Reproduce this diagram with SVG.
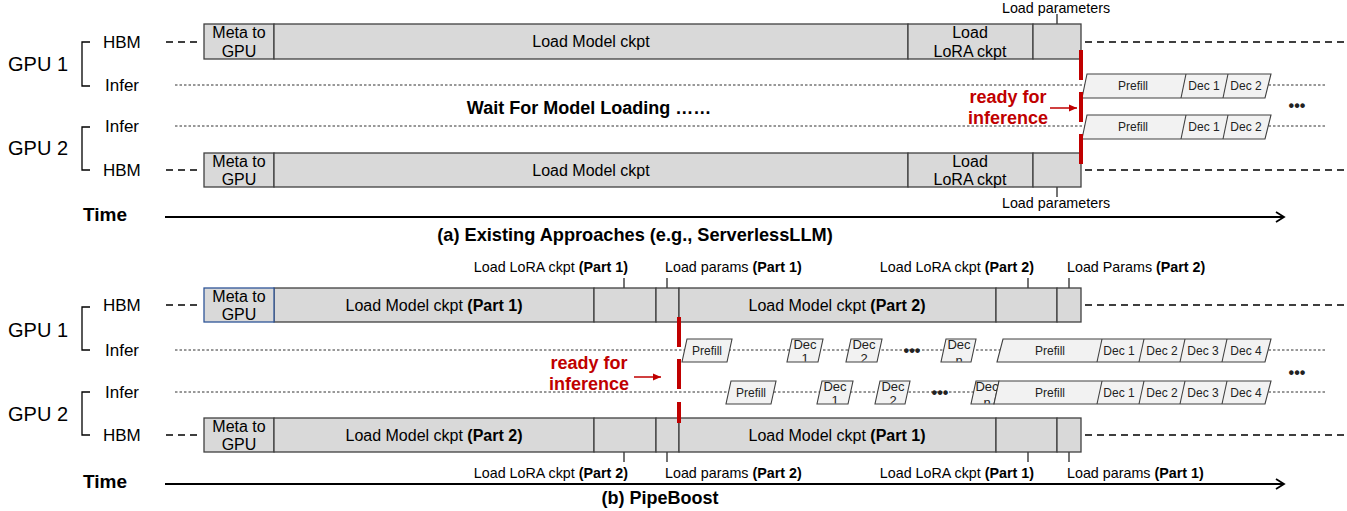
<svg xmlns="http://www.w3.org/2000/svg" width="1347" height="511" viewBox="0 0 1347 511">
<style>
text{font-family:"Liberation Sans",Arial,sans-serif;fill:#000}
.box{fill:#d9d9d9;stroke:#404040;stroke-width:1.3}
.meta-blue{fill:#d9d9d9;stroke:#2f5597;stroke-width:1.3}
.blk{fill:#f2f2f2;stroke:#404040;stroke-width:1.1}
.div{stroke:#404040;stroke-width:1.1;fill:none}
.dash{stroke:#000;stroke-width:1.6;stroke-dasharray:7 5;fill:none}
.dot{stroke:#333;stroke-width:1;stroke-dasharray:2.5 2;fill:none}
.tick{stroke:#000;stroke-width:1.1;fill:none}
.brk{stroke:#000;stroke-width:1.3;fill:none}
.red{stroke:#c00000;stroke-width:4;fill:none}
.axis{stroke:#000;stroke-width:1.8;fill:none}
.t16{font-size:16px;text-anchor:middle}
.t14{font-size:14.3px}
.t12{font-size:12px;text-anchor:middle;fill:#222}
.t13{font-size:13px;text-anchor:middle;fill:#222}
.gpu{font-size:20px}
.lane{font-size:17px}
.bold{font-weight:bold}
.redt{font-size:18px;font-weight:bold;fill:#c00000;text-anchor:middle}
.ell{font-size:16px;font-weight:bold;text-anchor:middle;fill:#222}
</style>
<defs>
<marker id="openArrow" markerWidth="12" markerHeight="12" refX="9" refY="6" orient="auto" markerUnits="userSpaceOnUse">
<path d="M1,1 L9,6 L1,11" fill="none" stroke="#000" stroke-width="1.8"/>
</marker>
<marker id="redArrow" markerWidth="10" markerHeight="10" refX="8" refY="5" orient="auto" markerUnits="userSpaceOnUse">
<path d="M0,1.5 L8,5 L0,8.5 Z" fill="#c00000"/>
</marker>
<clipPath id="clipR1"><rect x="700" y="330" width="320" height="31.5"/></clipPath>
<clipPath id="clipR2"><rect x="700" y="372" width="320" height="31.5"/></clipPath>
</defs>

<!-- ============ Labels (a) ============ -->
<g id="labels-a">
<text class="gpu" x="8" y="71">GPU 1</text>
<path class="brk" d="M90,42 H82 V86 H90"/>
<text class="lane" x="103" y="48">HBM</text>
<text class="lane" x="105" y="91">Infer</text>
<text class="gpu" x="8" y="155">GPU 2</text>
<path class="brk" d="M90,127 H82 V170 H90"/>
<text class="lane" x="105" y="132">Infer</text>
<text class="lane" x="103" y="176">HBM</text>
<text class="bold" x="83" y="221" font-size="19">Time</text>
<text class="bold" x="635" y="241" font-size="18.2" text-anchor="middle">(a) Existing Approaches (e.g., ServerlessLLM)</text>
<text class="bold" x="589" y="114" font-size="18" text-anchor="middle">Wait For Model Loading ……</text>
</g>

<!-- ============ Connectors / lines ============ -->
<g id="connectors">
<!-- panel a -->
<line class="dash" x1="166" y1="42" x2="200" y2="42"/>
<line class="dash" x1="1085" y1="42" x2="1347" y2="42"/>
<line class="dot" x1="175" y1="85" x2="1325" y2="85"/>
<line class="dot" x1="175" y1="126" x2="1325" y2="126"/>
<line class="dash" x1="166" y1="170" x2="200" y2="170"/>
<line class="dash" x1="1085" y1="170" x2="1347" y2="170"/>
<line class="axis" x1="165" y1="217" x2="1284" y2="217" marker-end="url(#openArrow)"/>
<line class="tick" x1="1057" y1="14" x2="1057" y2="24"/>
<line class="tick" x1="1057" y1="187" x2="1057" y2="197"/>
<line stroke="#c00000" stroke-width="1.5" x1="1050" y1="108" x2="1077" y2="108" marker-end="url(#redArrow)"/>
<!-- panel b -->
<line class="dash" x1="166" y1="305" x2="200" y2="305"/>
<line class="dash" x1="1085" y1="305" x2="1347" y2="305"/>
<line class="dot" x1="175" y1="350" x2="1325" y2="350"/>
<line class="dot" x1="175" y1="392" x2="1325" y2="392"/>
<line class="dash" x1="166" y1="435" x2="200" y2="435"/>
<line class="dash" x1="1085" y1="435" x2="1347" y2="435"/>
<line class="axis" x1="165" y1="484" x2="1284" y2="484" marker-end="url(#openArrow)"/>
<line class="tick" x1="624" y1="278" x2="624" y2="288"/>
<line class="tick" x1="667" y1="278" x2="667" y2="288"/>
<line class="tick" x1="1028" y1="278" x2="1028" y2="288"/>
<line class="tick" x1="1069" y1="278" x2="1069" y2="288"/>
<line class="tick" x1="624" y1="452" x2="624" y2="462"/>
<line class="tick" x1="667" y1="452" x2="667" y2="462"/>
<line class="tick" x1="1028" y1="452" x2="1028" y2="462"/>
<line class="tick" x1="1069" y1="452" x2="1069" y2="462"/>
<line stroke="#c00000" stroke-width="1.5" x1="634" y1="377" x2="661" y2="377" marker-end="url(#redArrow)"/>
</g>

<!-- ============ Panel (a) GPU1 HBM ============ -->
<g id="a-gpu1-hbm">
<rect class="box" x="204" y="24" width="70" height="35"/>
<text class="t16" x="239" y="38">Meta to</text>
<text class="t16" x="239" y="57">GPU</text>
<rect class="box" x="274" y="24" width="634" height="35"/>
<text class="t16" x="591" y="47">Load Model ckpt</text>
<rect class="box" x="908" y="24" width="125" height="35"/>
<text class="t16" x="970" y="38">Load</text>
<text class="t16" x="970" y="57">LoRA ckpt</text>
<rect class="box" x="1033" y="24" width="48" height="35"/>
<text class="t14" x="1056" y="13" text-anchor="middle">Load parameters</text>
</g>

<!-- ============ Panel (a) GPU2 HBM ============ -->
<g id="a-gpu2-hbm">
<rect class="box" x="204" y="153" width="70" height="34"/>
<text class="t16" x="239" y="167">Meta to</text>
<text class="t16" x="239" y="185">GPU</text>
<rect class="box" x="274" y="153" width="634" height="34"/>
<text class="t16" x="591" y="176">Load Model ckpt</text>
<rect class="box" x="908" y="153" width="125" height="34"/>
<text class="t16" x="970" y="167">Load</text>
<text class="t16" x="970" y="185">LoRA ckpt</text>
<rect class="box" x="1033" y="153" width="48" height="34"/>
<text class="t14" x="1056" y="208" text-anchor="middle">Load parameters</text>
</g>

<!-- ============ Panel (a) inference ============ -->
<g id="a-gpu1-infer">
<polygon class="blk" points="1087,74 1271,74 1265,98 1082,98"/>
<line class="div" x1="1186" y1="74" x2="1181" y2="98"/>
<line class="div" x1="1228" y1="74" x2="1223" y2="98"/>
<text class="t12" x="1133" y="90">Prefill</text>
<text class="t12" x="1204" y="90">Dec 1</text>
<text class="t12" x="1246" y="90">Dec 2</text>
</g>
<g id="a-gpu2-infer">
<polygon class="blk" points="1087,115 1271,115 1265,139 1082,139"/>
<line class="div" x1="1186" y1="115" x2="1181" y2="139"/>
<line class="div" x1="1228" y1="115" x2="1223" y2="139"/>
<text class="t12" x="1133" y="131">Prefill</text>
<text class="t12" x="1204" y="131">Dec 1</text>
<text class="t12" x="1246" y="131">Dec 2</text>
</g>
<g id="a-ready">
<line class="red" x1="1081" y1="50" x2="1081" y2="80"/>
<line class="red" x1="1081" y1="92" x2="1081" y2="122"/>
<line class="red" x1="1081" y1="134" x2="1081" y2="164"/>
<text class="redt" x="1008" y="103">ready for</text>
<text class="redt" x="1008" y="124">inference</text>
<text class="ell" x="1297" y="111">•••</text>
</g>

<!-- ============ Labels (b) ============ -->
<g id="labels-b">
<text class="gpu" x="8" y="337">GPU 1</text>
<path class="brk" d="M90,307 H82 V350 H90"/>
<text class="lane" x="103" y="311">HBM</text>
<text class="lane" x="105" y="356">Infer</text>
<text class="gpu" x="8" y="421">GPU 2</text>
<path class="brk" d="M90,392 H82 V435 H90"/>
<text class="lane" x="105" y="398">Infer</text>
<text class="lane" x="103" y="441">HBM</text>
<text class="bold" x="83" y="488" font-size="19">Time</text>
<text class="bold" x="660" y="504" font-size="18" text-anchor="middle">(b) PipeBoost</text>
</g>

<!-- ============ Panel (b) GPU1 HBM ============ -->
<g id="b-gpu1-hbm">
<rect class="box" x="274" y="288" width="320" height="34"/>
<text class="t16" x="434" y="311">Load Model ckpt <tspan font-weight="bold">(Part 1)</tspan></text>
<rect class="box" x="594" y="288" width="62" height="34"/>
<rect class="box" x="656" y="288" width="23" height="34"/>
<rect class="box" x="679" y="288" width="317" height="34"/>
<text class="t16" x="837" y="311">Load Model ckpt <tspan font-weight="bold">(Part 2)</tspan></text>
<rect class="box" x="996" y="288" width="61" height="34"/>
<rect class="box" x="1057" y="288" width="24" height="34"/>
<rect class="meta-blue" x="204" y="288" width="70" height="34"/>
<text class="t16" x="239" y="302">Meta to</text>
<text class="t16" x="239" y="320">GPU</text>
<text class="t14" x="628" y="272" text-anchor="end">Load LoRA ckpt <tspan font-weight="bold">(Part 1)</tspan></text>
<text class="t14" x="665" y="272">Load params <tspan font-weight="bold">(Part 1)</tspan></text>
<text class="t14" x="1034" y="272" text-anchor="end">Load LoRA ckpt <tspan font-weight="bold">(Part 2)</tspan></text>
<text class="t14" x="1067" y="272">Load Params <tspan font-weight="bold">(Part 2)</tspan></text>
</g>

<!-- ============ Panel (b) GPU2 HBM ============ -->
<g id="b-gpu2-hbm">
<rect class="box" x="204" y="418" width="70" height="34"/>
<text class="t16" x="239" y="432">Meta to</text>
<text class="t16" x="239" y="450">GPU</text>
<rect class="box" x="274" y="418" width="320" height="34"/>
<text class="t16" x="434" y="441">Load Model ckpt <tspan font-weight="bold">(Part 2)</tspan></text>
<rect class="box" x="594" y="418" width="62" height="34"/>
<rect class="box" x="656" y="418" width="23" height="34"/>
<rect class="box" x="679" y="418" width="317" height="34"/>
<text class="t16" x="837" y="441">Load Model ckpt <tspan font-weight="bold">(Part 1)</tspan></text>
<rect class="box" x="996" y="418" width="61" height="34"/>
<rect class="box" x="1057" y="418" width="24" height="34"/>
<text class="t14" x="628" y="478" text-anchor="end">Load LoRA ckpt <tspan font-weight="bold">(Part 2)</tspan></text>
<text class="t14" x="665" y="478">Load params <tspan font-weight="bold">(Part 2)</tspan></text>
<text class="t14" x="1034" y="478" text-anchor="end">Load LoRA ckpt <tspan font-weight="bold">(Part 1)</tspan></text>
<text class="t14" x="1067" y="478">Load params <tspan font-weight="bold">(Part 1)</tspan></text>
</g>

<!-- ============ Panel (b) GPU1 inference ============ -->
<g id="b-gpu1-infer">
<polygon class="blk" points="687,339 732,339 727,362 682,362"/>
<text class="t12" x="707" y="355">Prefill</text>
<polygon class="blk" points="792,339 823,339 818,362 787,362"/>
<text class="t13" x="805" y="349">Dec</text>
<text class="t13" x="805" y="363" clip-path="url(#clipR1)">1</text>
<polygon class="blk" points="851,339 882,339 877,362 846,362"/>
<text class="t13" x="864" y="349">Dec</text>
<text class="t13" x="864" y="363" clip-path="url(#clipR1)">2</text>
<text class="ell" x="912" y="356">•••</text>
<polygon class="blk" points="946,339 976,339 971,362 941,362"/>
<text class="t13" x="959" y="349">Dec</text>
<text class="t13" x="959" y="365" clip-path="url(#clipR1)">n</text>
<polygon class="blk" points="1003,339 1271,339 1265,362 997,362"/>
<line class="div" x1="1102" y1="339" x2="1097" y2="362"/>
<line class="div" x1="1144" y1="339" x2="1139" y2="362"/>
<line class="div" x1="1185" y1="339" x2="1180" y2="362"/>
<line class="div" x1="1227" y1="339" x2="1222" y2="362"/>
<text class="t12" x="1050" y="355">Prefill</text>
<text class="t12" x="1119" y="355">Dec 1</text>
<text class="t12" x="1162" y="355">Dec 2</text>
<text class="t12" x="1203" y="355">Dec 3</text>
<text class="t12" x="1246" y="355">Dec 4</text>
</g>

<!-- ============ Panel (b) GPU2 inference ============ -->
<g id="b-gpu2-infer">
<polygon class="blk" points="731,381 776,381 771,404 726,404"/>
<text class="t12" x="751" y="397">Prefill</text>
<polygon class="blk" points="822,381 853,381 848,404 817,404"/>
<text class="t13" x="835" y="391">Dec</text>
<text class="t13" x="835" y="405" clip-path="url(#clipR2)">1</text>
<polygon class="blk" points="880,381 910,381 905,404 875,404"/>
<text class="t13" x="893" y="391">Dec</text>
<text class="t13" x="893" y="405" clip-path="url(#clipR2)">2</text>
<text class="ell" x="940" y="398">•••</text>
<polygon class="blk" points="976,381 999,381 994,404 971,404"/>
<text class="t13" x="987" y="391">Dec</text>
<text class="t13" x="987" y="407" clip-path="url(#clipR2)">n</text>
<polygon class="blk" points="999,381 1271,381 1265,404 994,404"/>
<line class="div" x1="1102" y1="381" x2="1097" y2="404"/>
<line class="div" x1="1144" y1="381" x2="1139" y2="404"/>
<line class="div" x1="1185" y1="381" x2="1180" y2="404"/>
<line class="div" x1="1227" y1="381" x2="1222" y2="404"/>
<text class="t12" x="1050" y="397">Prefill</text>
<text class="t12" x="1119" y="397">Dec 1</text>
<text class="t12" x="1162" y="397">Dec 2</text>
<text class="t12" x="1203" y="397">Dec 3</text>
<text class="t12" x="1246" y="397">Dec 4</text>
</g>

<g id="b-ready">
<line class="red" x1="679" y1="317" x2="679" y2="347"/>
<line class="red" x1="679" y1="359" x2="679" y2="389"/>
<line class="red" x1="679" y1="402" x2="679" y2="423"/>
<text class="redt" x="589" y="369">ready for</text>
<text class="redt" x="589" y="390">inference</text>
<text class="ell" x="1297" y="378">•••</text>
</g>
</svg>
